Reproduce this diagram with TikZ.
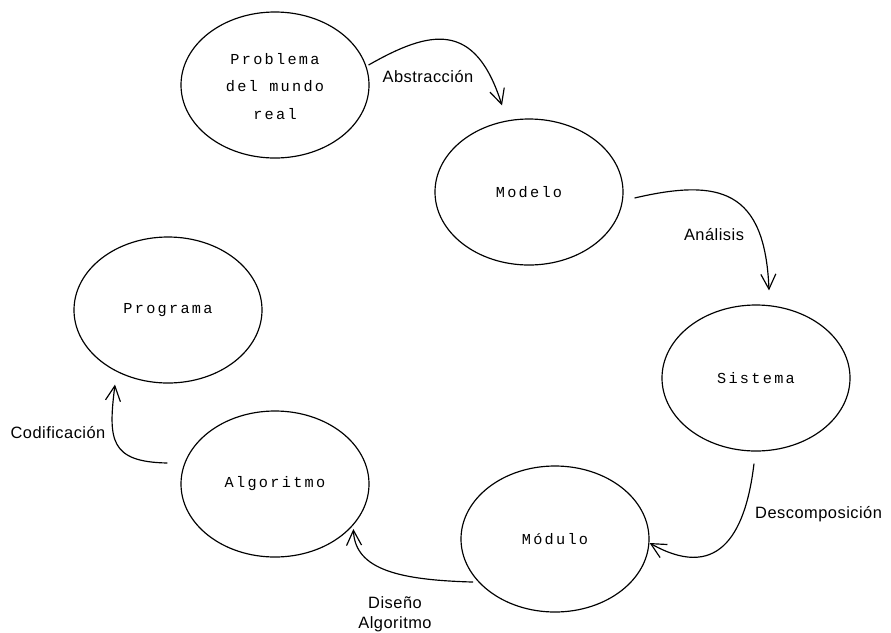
\documentclass[tikz,border=0pt]{standalone}
\usepackage{fontspec}
\newfontfamily\stagefont{Liberation Mono}[LetterSpace=15]
\newfontfamily\flowfont{Liberation Sans}[LetterSpace=3]
\usetikzlibrary{shapes.geometric,arrows.meta}

\begin{document}
\begin{tikzpicture}
[
  x=0.03cm, y=-0.03cm,
  stage/.style={ellipse,draw,line width=1pt,minimum width=5.64cm,minimum height=4.38cm,
    inner sep=0pt,align=center,font=\stagefont\fontsize{13}{23.4}\selectfont},
  flow/.style={line width=1pt,-{Straight Barb[length=4.5mm,width=4.5mm]}},
  lbl/.style={font=\flowfont\fontsize{14}{17}\selectfont,inner sep=0pt,align=center}
]

\path[fill=white,use as bounding box] (0,0) rectangle (891,632);

% stages
\node[stage] (problema) at (275,85) {\\[-12pt]Problema\\del mundo\\real};
\node[stage] (modelo) at (529,192) {Modelo};
\node[stage] (programa) at (168,310) {Programa};
\node[stage] (sistema) at (756,378) {Sistema};
\node[stage] (algoritmo) at (275,484) {Algoritmo};
\node[stage] (modulo) at (555,539) {Módulo};

% transitions
\draw[flow] ([shift={(-1,-20)}]problema.east) .. controls (430,30) and (475,20) .. ([shift={(-27,-13)}]modelo.north);
\draw[flow] ([shift={(11,6)}]modelo.east) .. controls (720,178) and (765,190) .. ([shift={(13,-14)}]sistema.north);
\draw[flow] ([shift={(-2,12)}]sistema.south) .. controls (745,540) and (715,580) .. ([shift={(0,4)}]modulo.east);
\draw[flow] ([shift={(-15,-9)}]modulo.south west) .. controls (400,580) and (355,570) .. ([shift={(11.5,-7)}]algoritmo.south east);
\draw[flow] ([shift={(-13,-21)}]algoritmo.west) .. controls (110,462) and (108,440) .. ([shift={(-53,1)}]programa.south);

% labels
\node[lbl,anchor=base] (abstraccion) at (428,82) {Abstracción};
\node[lbl,anchor=base] (analisis) at (714,240) {Análisis};
\node[lbl,anchor=base west] (descomposicion) at (755,518) {Descomposición};
\node[lbl] (disenyo) at (395,614) {Diseño\\Algoritmo};
\node[lbl,anchor=base] (codificacion) at (58,438) {Codificación};

\end{tikzpicture}
\end{document}
